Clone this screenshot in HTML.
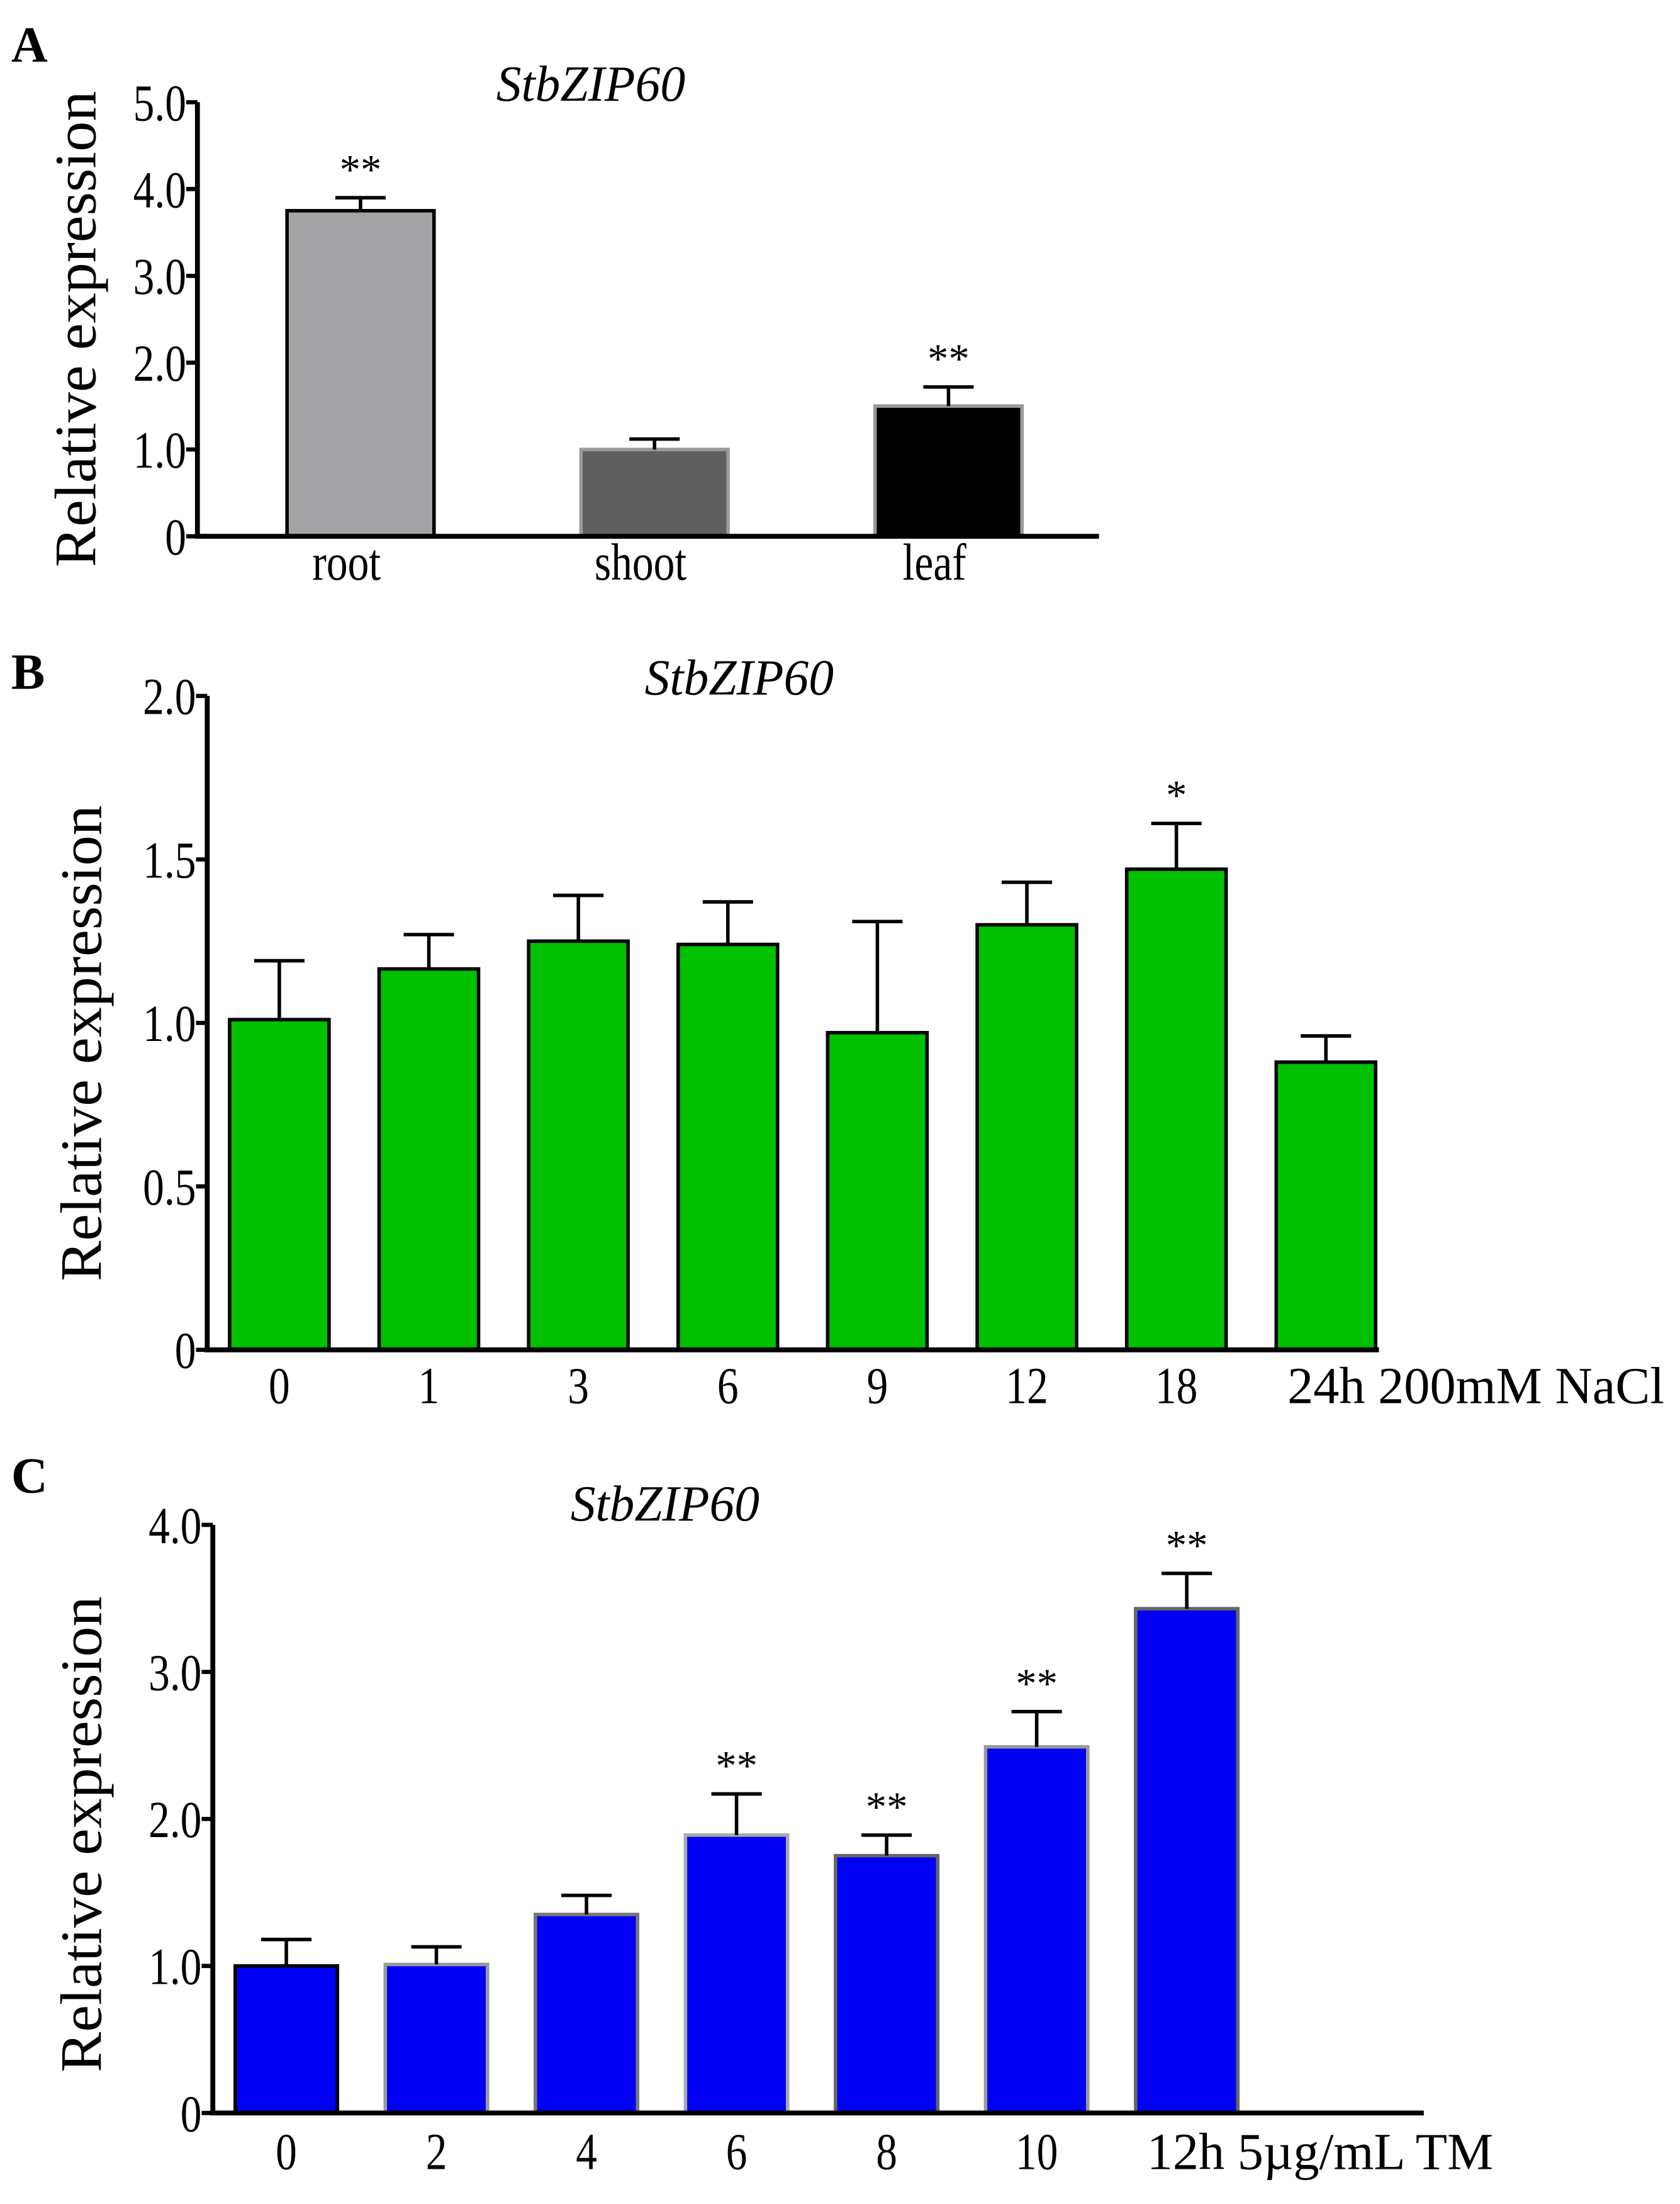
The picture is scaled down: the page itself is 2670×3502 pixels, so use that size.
<!DOCTYPE html>
<html><head><meta charset="utf-8"><style>html,body{margin:0;padding:0;background:#fff}svg{display:block}</style></head>
<body>
<svg id="fig" xmlns="http://www.w3.org/2000/svg" width="2670" height="3502" viewBox="0 0 1200 1574" font-family="'Liberation Serif', serif">
<rect width="1200" height="1574" fill="#fff"/>
</svg>
<script>
// Panel A data
const aCats = ["root","shoot","leaf"];
const aVals = [3.75, 1.0, 1.5];
const aErrs = [0.15, 0.12, 0.22];
const aSig = ["**","","**"];
const aTicks = [0,1,2,3,4,5];
const aTickLabels = ["0","1.0","2.0","3.0","4.0","5.0"];
// Panel B data
const bCats = ["0","1","3","6","9","12","18","24h 200mM NaCl"];
const bVals = [1.01, 1.165, 1.25, 1.24, 0.97, 1.30, 1.47, 0.88];
const bErrs = [0.18, 0.105, 0.14, 0.13, 0.34, 0.13, 0.14, 0.08];
const bSig = ["","","","","","","*",""];
const bTicks = [0,0.5,1,1.5,2];
const bTickLabels = ["0","0.5","1.0","1.5","2.0"];
// Panel C data
const cCats = ["0","2","4","6","8","10","12h 5\u00b5g/mL TM"];
const cVals = [1.0, 1.01, 1.35, 1.89, 1.75, 2.49, 3.43];
const cErrs = [0.18, 0.12, 0.13, 0.28, 0.14, 0.24, 0.24];
const cSig = ["","","","**","**","**","**"];
const cTicks = [0,1,2,3,4];
const cTickLabels = ["0","1.0","2.0","3.0","4.0"];

const NS="http://www.w3.org/2000/svg";
const svg=document.getElementById('fig');
function mk(tag,attrs,parent){const e=document.createElementNS(NS,tag);for(const k in attrs)e.setAttribute(k,attrs[k]);(parent||svg).appendChild(e);return e;}

function panel(cfg){
  const g=mk('g',{});
  
  
  const y=v=>cfg.y0-(v/cfg.ymax)*(cfg.y0-cfg.yTop);
  const x=i=>cfg.x0+i*cfg.step;
  const L=mk('text',{x:8,y:cfg.letterY,'font-size':36,'font-weight':'bold'},g);L.textContent=cfg.letter;
  
  
  const T=mk('text',{x:cfg.titleX,y:cfg.titleY,'font-size':36,'font-style':'italic','text-anchor':'middle',textLength:135,lengthAdjust:'spacingAndGlyphs'},g);T.textContent="StbZIP60";
  
  
  const YT=mk('text',{x:0,y:0,'font-size':42,'text-anchor':'middle',textLength:340,lengthAdjust:'spacingAndGlyphs',transform:`translate(${cfg.ytX},${cfg.ytY}) rotate(-90)`},g);YT.textContent="Relative expression";
  
  
  cfg.vals.forEach((v,i)=>{
    const bx=x(i), by=y(v);
    const r=mk('rect',{x:bx,y:by,width:cfg.bw,height:cfg.y0-by,fill:cfg.fill[i],stroke:cfg.stroke[i],'stroke-width':2.5},g);
    
    
    const cx=bx+cfg.bw/2, ey=y(v+cfg.errs[i]);
    const e=mk('path',{d:`M${cx},${by} V${ey} M${cx-18},${ey} H${cx+18}`,stroke:'#000','stroke-width':2.5,fill:'none'},g);
    
    
    if(cfg.sig[i]){const s=mk('text',{x:cx,y:ey-10,'font-size':30,'text-anchor':'middle'},g);s.textContent=cfg.sig[i];
      
      }
    const isStart=cfg.catAnchor[i]==='start';
    const lx=(isStart?bx+8:cx+cfg.labDx);
    const sx=isStart?1.0:0.82;
    const lab=mk('text',{x:0,y:0,'font-size':37,'text-anchor':cfg.catAnchor[i],transform:`translate(${lx},${cfg.labY}) scale(${sx},1)`},g);lab.textContent=cfg.cats[i];
    
    
  });
  const ax=mk('path',{d:`M${cfg.axX},${cfg.yTop} V${cfg.y0} M${cfg.axX-2},${cfg.y0} H${cfg.axEnd}`,stroke:'#000','stroke-width':3.5,fill:'none'},g);
  
  
  cfg.ticks.forEach((t,i)=>{
    const ty=y(t);
    const tk=mk('line',{x1:cfg.axX-8,x2:cfg.axX,y1:ty,y2:ty,stroke:'#000','stroke-width':3},g);
    
    
    const tl=mk('text',{x:0,y:0,'font-size':37,'text-anchor':'end',transform:`translate(${cfg.axX-8},${ty+13}) scale(0.82,1)`},g);tl.textContent=cfg.tickLabels[i];
    
    
  });
}

panel({name:'panel-a',letter:'A',letterY:44,titleX:422,titleY:72,ytX:68,ytY:235,
  cats:aCats,vals:aVals,errs:aErrs,sig:aSig,ticks:aTicks,tickLabels:aTickLabels,
  ymax:5,y0:383,yTop:73,x0:205,step:210,bw:105,axX:141,axEnd:785,labY:414,labDx:-10,
  fill:['#a3a3a6','#5f5f5f','#000'],stroke:['#000','#999','#999'],catAnchor:['middle','middle','middle']});
panel({name:'panel-b',letter:'B',letterY:492,titleX:528,titleY:496,ytX:72,ytY:745,
  cats:bCats,vals:bVals,errs:bErrs,sig:bSig,ticks:bTicks,tickLabels:bTickLabels,
  ymax:2,y0:964,yTop:497,x0:164,step:106.8,bw:71,axX:148,axEnd:985,labY:1002,labDx:0,
  fill:Array(8).fill('#00c000'),stroke:Array(8).fill('#000'),catAnchor:['middle','middle','middle','middle','middle','middle','middle','start']});
panel({name:'panel-c',letter:'C',letterY:1066,titleX:475,titleY:1086,ytX:72,ytY:1310,
  cats:cCats,vals:cVals,errs:cErrs,sig:cSig,ticks:cTicks,tickLabels:cTickLabels,
  ymax:4,y0:1509,yTop:1089,x0:168,step:107.2,bw:73,axX:152,axEnd:1017,labY:1549,labDx:0,
  fill:Array(7).fill('#0000f5'),stroke:['#000','#999','#777','#aaa','#666','#999','#666'],catAnchor:['middle','middle','middle','middle','middle','middle','start']});
</script>
</body></html>
